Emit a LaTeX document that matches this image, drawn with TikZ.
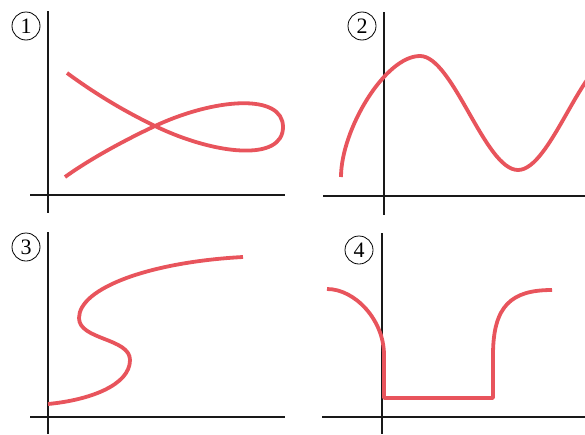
\documentclass[tikz,border=0pt]{standalone}
\usepackage{fontspec}
\setmainfont{Liberation Serif}
\usepackage{tikz}
\definecolor{curvered}{RGB}{232,84,92}
\tikzset{
  axis/.style={line width=1.8pt, black!90},
  redcurve/.style={line width=3.8pt, curvered, line join=round},
  numcircle/.style={circle, draw, line width=0.8pt, minimum size=28pt, inner sep=0pt, font=\fontsize{22}{22}\selectfont}
}
\begin{document}
\begin{tikzpicture}[x=1pt,y=-1pt]
\useasboundingbox (0,0) rectangle (585,434);
% ---- panel 1 ----
\coordinate (a1t) at (48,11); \coordinate (a1b) at (48,213);
\coordinate (a1l) at (30,195); \coordinate (a1r) at (285,195);
\draw[axis] (a1t) -- (a1b);
\draw[axis] (a1l) -- (a1r);
\node[numcircle] (n1) at (26,26) {1};
\draw[redcurve] (67,73) .. controls (97,95) and (125,111.5) .. (155,126)
  .. controls (215,155) and (283,162) .. (283,127)
  .. controls (283,93) and (215,98) .. (155,126)
  .. controls (125,140) and (90,159) .. (65,177);
% ---- panel 2 ----
\coordinate (a2t) at (384,12); \coordinate (a2b) at (384,215);
\coordinate (a2l) at (323,196); \coordinate (a2r) at (585,196);
\draw[axis] (a2t) -- (a2b);
\draw[axis] (a2l) -- (a2r);
\node[numcircle] (n2) at (362,26) {2};
\begin{scope}
\clip (300,0) rectangle (585,220);
\draw[redcurve] (341,177) .. controls (341,130) and (385,56) .. (420,56)
  .. controls (453,56) and (485,170) .. (518,170)
  .. controls (551,170) and (583,56) .. (616,56);
\end{scope}
% ---- panel 3 ----
\coordinate (a3t) at (48,232); \coordinate (a3b) at (48,434);
\coordinate (a3l) at (30,417); \coordinate (a3r) at (285,417);
\draw[axis] (a3t) -- (a3b);
\draw[axis] (a3l) -- (a3r);
\node[numcircle] (n3) at (26,247) {3};
\draw[redcurve] (48,404) .. controls (90,400) and (130,385) .. (130,360)
  .. controls (130,338) and (79,340) .. (79,318)
  .. controls (79,288) and (150,262) .. (243,257);
% ---- panel 4 ----
\coordinate (a4t) at (382,233); \coordinate (a4b) at (382,434);
\coordinate (a4l) at (322,417); \coordinate (a4r) at (585,417);
\draw[axis] (a4t) -- (a4b);
\draw[axis] (a4l) -- (a4r);
\node[numcircle] (n4) at (359,250) {4};
\draw[redcurve] (327,289) .. controls (355,289) and (384,320) .. (384,355)
  -- (384,398) -- (493,398) -- (493,355)
  .. controls (493,305) and (512,290) .. (552,290);
\end{tikzpicture}
\end{document}
